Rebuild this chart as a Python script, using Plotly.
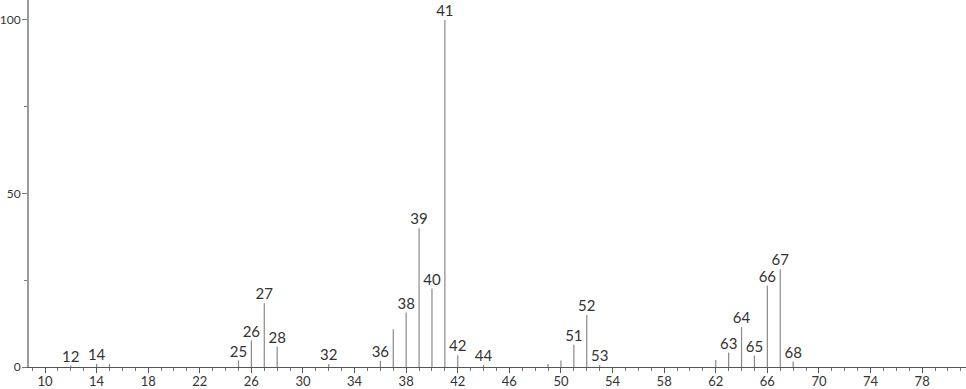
import plotly.graph_objects as go

# m/z values and relative intensities
mz = [12, 14, 15, 25, 26, 27, 28, 32, 36, 37, 38, 39, 40, 41, 42, 44,
      49, 50, 51, 52, 53, 62, 63, 64, 65, 66, 67, 68]
intensity = [0.4, 0.9, 0.9, 1.9, 7.7, 18.4, 5.9, 0.9, 1.8, 10.9, 15.7, 40.0, 22.6, 100.0, 3.4, 0.6,
             0.9, 1.9, 6.4, 15.0, 0.6, 2.0, 4.2, 11.5, 3.3, 23.4, 28.2, 1.6]
labeled = [12, 14, 25, 26, 27, 28, 32, 36, 38, 39, 40, 41, 42, 44,
           51, 52, 53, 63, 64, 65, 66, 67, 68]

x_ticks = list(range(10, 79, 4))
y_ticks = [0, 50, 100]

xs, ys = [], []
for m, v in zip(mz, intensity):
    xs += [m, m, None]
    ys += [0, v, None]

lab_x = [m for m in mz if m in labeled]
lab_y = [v for m, v in zip(mz, intensity) if m in labeled]

fig = go.Figure()
fig.add_trace(go.Scatter(x=xs, y=ys, mode="lines",
                         line=dict(color="#8a8a8a", width=1.2),
                         hoverinfo="skip", showlegend=False))
fig.add_trace(go.Scatter(x=lab_x, y=lab_y, mode="text",
                         text=[str(m) for m in lab_x],
                         textposition="top center",
                         textfont=dict(family="Lato, sans-serif", size=15, color="#333333"),
                         showlegend=False))

fig.update_layout(
    width=966, height=389,
    margin=dict(l=29, r=0, t=0, b=22, autoexpand=False),
    paper_bgcolor="white", plot_bgcolor="white",
    font=dict(family="Lato, sans-serif", size=13, color="#333333"),
)
fig.update_xaxes(
    range=[8.76, 81.4], showgrid=False, zeroline=False, automargin=False,
    showline=True, linecolor="#555555", linewidth=1,
    tickmode="array", tickvals=x_ticks, ticktext=[str(t) for t in x_ticks],
    ticks="outside", ticklen=5, tickcolor="#555555", tickwidth=1,
    ticklabelstandoff=-3,
    tickfont=dict(size=13, color="#333333"),
    minor=dict(dtick=1, tick0=10, ticks="outside", ticklen=3, tickcolor="#777777", tickwidth=1),
)
fig.update_yaxes(
    range=[0, 105.76], showgrid=False, zeroline=False, automargin=False,
    showline=True, linecolor="#9a9a9a", linewidth=2,
    tickmode="array", tickvals=y_ticks, ticktext=[str(t) for t in y_ticks],
    ticks="outside", ticklen=5, tickcolor="#777777", tickwidth=1,
    ticklabelstandoff=-1,
    tickfont=dict(size=12, color="#333333"),
    minor=dict(tickvals=[25, 75], ticks="outside", ticklen=3, tickcolor="#777777", tickwidth=1),
)

fig.write_html("out.html")
